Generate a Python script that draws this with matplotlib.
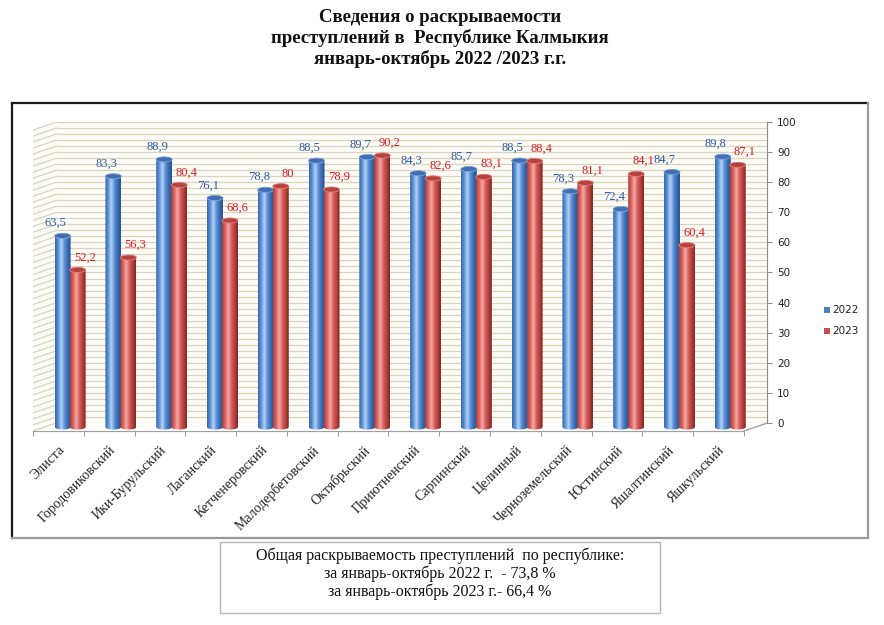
import numpy as np
import matplotlib
matplotlib.use("Agg")
import matplotlib.pyplot as plt
from matplotlib.patches import Rectangle, Ellipse, PathPatch, Polygon
from matplotlib.path import Path
from matplotlib.colors import LinearSegmentedColormap

districts = ["Элиста", "Городовиковский", "Ики-Бурульский", "Лаганский",
             "Кетченеровский", "Малодербетовский", "Октябрьский", "Приютненский",
             "Сарпинский", "Целинный", "Черноземельский", "Юстинский",
             "Яшалтинский", "Яшкульский"]
vals_2022 = [63.5, 83.3, 88.9, 76.1, 78.8, 88.5, 89.7, 84.3, 85.7, 88.5, 78.3, 72.4, 84.7, 89.8]
vals_2023 = [52.2, 56.3, 80.4, 68.6, 80.0, 78.9, 90.2, 82.6, 83.1, 88.4, 81.1, 84.1, 60.4, 87.1]
years = ["2022", "2023"]
y_ticks = list(range(0, 101, 10))

serif = "Liberation Serif"

fig = plt.figure(figsize=(8.84, 6.25), dpi=100)

# overlay in pixel coords for frame, titles, note box
bg = fig.add_axes([0, 0, 1, 1], zorder=0)
bg.set_xlim(0, 884)
bg.set_ylim(625, 0)
bg.axis("off")

bg.plot([12, 868], [103, 103], color="#1a1a1a", lw=1.6)
bg.plot([12, 12], [103, 538], color="#1a1a1a", lw=1.6)
bg.plot([868, 868], [103, 538], color="#9a9a9a", lw=1.6)
bg.plot([12, 868], [538, 538], color="#9a9a9a", lw=1.6)

title_lines = ["Сведения о раскрываемости",
               "преступлений в  Республике Калмыкия",
               "январь-октябрь 2022 /2023 г.г."]
for k, line in enumerate(title_lines):
    bg.text(440, 17 + 21 * k, line, ha="center", va="center", family=serif,
            fontweight="bold", fontsize=13.5, color="#111")

bg.add_patch(Rectangle((220, 542), 440, 71, fill=False, edgecolor="#b5b5b5", lw=1))
note_lines = ["Общая раскрываемость преступлений  по республике:",
              "за январь-октябрь 2022 г.  - 73,8 %",
              "за январь-октябрь 2023 г.- 66,4 %"]
for k, line in enumerate(note_lines):
    bg.text(440, 556 + 18 * k, line, ha="center", va="center", family=serif,
            fontsize=11.5, color="#111")

# legend
for k, (yr, col) in enumerate(zip(years, ["#4f81bd", "#c0504d"])):
    bg.add_patch(Rectangle((824, 307 + 21 * k), 6, 6, facecolor=col, edgecolor="none"))
    bg.text(832, 310 + 21 * k, yr, ha="left", va="center", fontsize=7.5, color="#222")

# main chart
dx, dy = 0.463, 2.66
n = len(districts)
x = np.arange(n)

ax = fig.add_axes([33 / 884, (625 - 431) / 625, (767.4 - 33) / 884, 309 / 625], zorder=1)
ax.set_facecolor("none")

grid_c = "#d8d4bd"
# back wall
ax.add_patch(Polygon([(-0.5 + dx, dy), (n - 0.5 + dx, dy), (n - 0.5 + dx, 100 + dy),
                      (-0.5 + dx, 100 + dy)], closed=True, facecolor="#fdfcf7",
                     edgecolor="none", zorder=0))
# side wall
ax.add_patch(Polygon([(-0.5, 0), (-0.5 + dx, dy), (-0.5 + dx, 100 + dy), (-0.5, 100)],
                     closed=True, facecolor="#fdfcf7", edgecolor="none", zorder=0))
for v in np.arange(0, 101, 2):
    ax.plot([-0.5 + dx, n - 0.5 + dx], [v + dy, v + dy], color=grid_c, lw=0.9, zorder=1)
    ax.plot([-0.5, -0.5 + dx], [v, v + dy], color=grid_c, lw=0.9, zorder=1)
# floor
ax.add_patch(Polygon([(-0.5, 0), (n - 0.5, 0), (n - 0.5 + dx, dy), (-0.5 + dx, dy)],
                     closed=True, facecolor="white", edgecolor="none", zorder=1.5))
ax.plot([n - 0.5, n - 0.5 + dx], [0, dy], color="#a0a0a0", lw=1, zorder=2)
ax.plot([-0.5, -0.5 + dx], [0, dy], color=grid_c, lw=0.9, zorder=2)

blue_cm = LinearSegmentedColormap.from_list(
    "b", ["#3366a8", "#5d90d4", "#b3d5f8", "#5b8fd4", "#3a6ab0", "#24508c"])
red_cm = LinearSegmentedColormap.from_list(
    "r", ["#a83c39", "#d9625f", "#f8aaa7", "#d45d5a", "#b2403d", "#7e2422"])
grad = np.linspace(0, 1, 256).reshape(1, -1)

w = 0.315
eh = 1.7
base = dy / 2


def cylinder(xc, val, cmap, cap, rim, z):
    x0, x1 = xc - w / 2, xc + w / 2
    top = base + val
    t1 = np.linspace(np.pi, 2 * np.pi, 40)
    t2 = np.linspace(0, np.pi, 40)
    pts = list(zip(xc + w / 2 * np.cos(t1), base + eh / 2 * np.sin(t1)))
    pts += list(zip(xc + w / 2 * np.cos(t2), top + eh / 2 * np.sin(t2)))
    pts.append(pts[0])
    path = Path(pts)
    patch = PathPatch(path, facecolor="none", edgecolor="none", zorder=z)
    ax.add_patch(patch)
    im = ax.imshow(grad, extent=[x0, x1, base - eh, top + eh], aspect="auto",
                   cmap=cmap, interpolation="bicubic", zorder=z)
    im.set_clip_path(patch)
    ax.add_patch(Ellipse((xc, top), w, eh, facecolor=cap, edgecolor=rim, lw=0.6, zorder=z + 0.1))
    return top


for i in range(n):
    xb = i + dx / 2 - 0.148
    xr = i + dx / 2 + 0.148
    tb = cylinder(xb, vals_2022[i], blue_cm, "#3f6fb2", "#7ea6dc", 3 + i * 0.01)
    tr = cylinder(xr, vals_2023[i], red_cm, "#b8413e", "#e08380", 3.5 + i * 0.01)
    lb = f"{vals_2022[i]:g}".replace(".", ",")
    lr = f"{vals_2023[i]:g}".replace(".", ",")
    ax.text(xb - 0.14, tb + 4.2, lb, ha="center", va="center", family=serif,
            fontsize=9, color="#2a5ca8", zorder=10)
    ax.text(xr + 0.14, tr + 4.2, lr, ha="center", va="center", family=serif,
            fontsize=9, color="#e3161d", zorder=10)

ax.set_xlim(-0.5, n - 0.5 + dx)
ax.set_ylim(0, 100 + dy)

for s in ["top", "left"]:
    ax.spines[s].set_visible(False)
ax.spines["right"].set_bounds(dy, 100 + dy)
ax.spines["right"].set_color("#8c8c8c")
ax.spines["bottom"].set_bounds(-0.5, n - 0.5)
ax.spines["bottom"].set_color("#a0a0a0")

ax.yaxis.tick_right()
ax.set_yticks([v + dy for v in y_ticks], [str(v) for v in y_ticks])
ax.tick_params(axis="y", length=3.5, pad=3.5, color="#8c8c8c", labelsize=7.5,
               labelcolor="#222")

ax.set_xticks(np.arange(-0.5, n, 1))
ax.set_xticklabels([])
ax.tick_params(axis="x", which="major", length=3.5, color="#a0a0a0")
ax.set_xticks(x, districts, minor=True)
ax.tick_params(axis="x", which="minor", length=0, pad=9)
for lab in ax.get_xticklabels(minor=True):
    lab.set_rotation(45)
    lab.set_ha("right")
    lab.set_va("top")
    lab.set_rotation_mode("anchor")
    lab.set_family(serif)
    lab.set_fontsize(10)
    lab.set_color("#222")

fig.savefig("out.png", dpi=100)
